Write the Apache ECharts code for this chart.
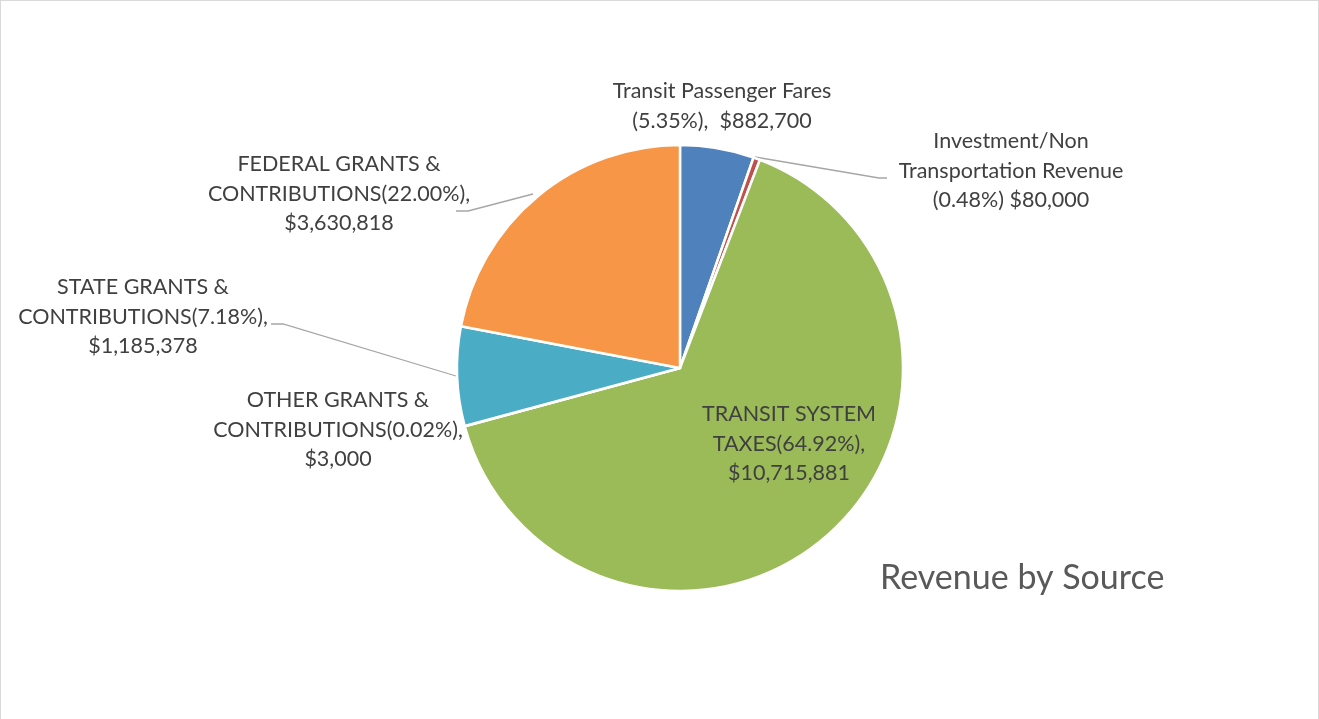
<!DOCTYPE html>
<html><head><meta charset="utf-8">
<script src="https://cdn.jsdelivr.net/npm/echarts@6/dist/echarts.min.js"></script>
<style>
html,body{margin:0;padding:0;background:#fff;}
#c{position:absolute;left:0;top:0;width:1319px;height:730px;border:1px solid #d9d9d9;box-sizing:border-box;}
</style></head>
<body><div id="c"></div>
<script>
const categories = ['Transit Passenger Fares','Investment/Non Transportation Revenue','TRANSIT SYSTEM TAXES','OTHER GRANTS & CONTRIBUTIONS','STATE GRANTS & CONTRIBUTIONS','FEDERAL GRANTS & CONTRIBUTIONS'];
const values = [882700, 80000, 10715881, 3000, 1185378, 3630818];
const labelTexts = [
  'Transit Passenger Fares\n(5.35%),  $882,700',
  'Investment/Non\nTransportation Revenue\n(0.48%) $80,000',
  'TRANSIT SYSTEM\nTAXES(64.92%),\n$10,715,881',
  'OTHER GRANTS &\nCONTRIBUTIONS(0.02%),\n$3,000',
  'STATE GRANTS &\nCONTRIBUTIONS(7.18%),\n$1,185,378',
  'FEDERAL GRANTS &\nCONTRIBUTIONS(22.00%),\n$3,630,818'
];
const colors = ['#4F81BD','#C0504D','#9BBB59','#8064A2','#4BACC6','#F79646'];
const title = 'Revenue by Source';

const labelPos = [
  {x:721, y:105, lines:null},
  {x:1010, y:170, lines:[[754,156],[878,177],[886,177]]},
  {x:788, y:443, lines:null},
  {x:337, y:429, lines:null},
  {x:142, y:316, lines:[[455,375],[282,323],[270,323]]},
  {x:338, y:193, lines:[[532,193],[467,210],[455,210]]}
];

const chart = echarts.init(document.getElementById('c'));
chart.setOption({
  animation:false,
  title:{text:title, left:874, top:555, textStyle:{fontFamily:'Lato', fontSize:34, fontWeight:'normal', color:'#595959'}},
  series:[{
    type:'pie',
    center:[679,367],
    radius:223,
    startAngle:90,
    clockwise:true,
    avoidLabelOverlap:false,
    itemStyle:{borderColor:'#fff', borderWidth:2.5},
    label:{show:true, position:'outside', color:'#404040', fontFamily:'Lato', fontSize:21.5, lineHeight:29.5, align:'center',
      formatter:p=>labelTexts[p.dataIndex]},
    labelLine:{show:true, lineStyle:{color:'#a6a6a6', width:1.3}, length:10, length2:10},
    labelLayout:function(p){
      const L = labelPos[p.dataIndex];
      const r = {x:L.x, y:L.y, align:'center', verticalAlign:'middle'};
      if (L.lines) r.labelLinePoints = L.lines;
      return r;
    },
    data: categories.map((n,i)=>({name:n, value:values[i], itemStyle:{color:colors[i]},
      labelLine:{show: labelPos[i].lines !== null}}))
  }]
});
</script></body></html>
